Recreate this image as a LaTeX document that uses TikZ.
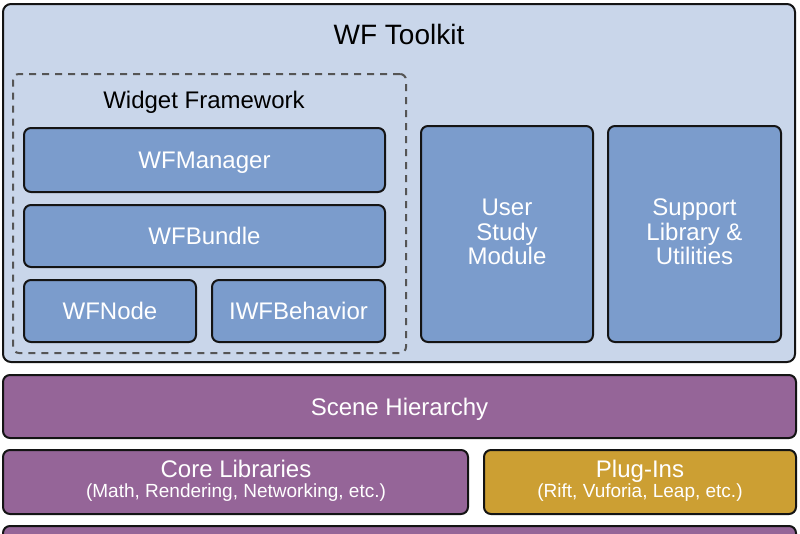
\documentclass[tikz,border=0pt]{standalone}
\usepackage{fontspec}
\setmainfont{Liberation Sans}
\definecolor{tkfill}{HTML}{C9D6EA}
\definecolor{wfblue}{HTML}{7B9CCC}
\definecolor{wfpurple}{HTML}{956598}
\definecolor{wfgold}{HTML}{CC9F33}
\definecolor{bordercol}{HTML}{141414}
\definecolor{dashcol}{HTML}{555555}
\begin{document}
\begin{tikzpicture}[x=1pt,y=-1pt,
  base box/.style={draw=bordercol, line width=2pt, rounded corners=7pt, inner sep=0pt, outer sep=0pt, anchor=north west},
  bluebox/.style={base box, fill=wfblue},
  purplebox/.style={base box, fill=wfpurple},
  goldbox/.style={base box, fill=wfgold},
  onel/.style={text=white, font=\fontsize{24}{24}\selectfont, text height=17.2pt, text depth=0pt},
  wlabel/.style={text=white, font=\fontsize{24}{24}\selectfont, anchor=base, inner sep=0pt},
  sublabel/.style={text=white, font=\fontsize{19}{19}\selectfont, anchor=base, inner sep=0pt},
  blabel/.style={text=black, anchor=base, inner sep=0pt}
]
\useasboundingbox (0,0) rectangle (800,533);
\fill[white] (0,0) rectangle (800,533);

% WF Toolkit container
\node[base box, fill=tkfill, rounded corners=8pt, minimum width=792pt, minimum height=358pt] (toolkit) at (3,4) {};
\node[blabel, font=\fontsize{28}{28}\selectfont] (tktitle) at (399,44) {WF Toolkit};

% Widget Framework dashed group
\node[draw=dashcol, line width=2pt, dash pattern=on 7pt off 6pt, rounded corners=6pt, inner sep=0pt, outer sep=0pt, anchor=north west, minimum width=393pt, minimum height=279pt] (wf) at (13,74) {};
\node[blabel, font=\fontsize{24}{24}\selectfont] (wftitle) at (204,108) {Widget Framework};

\node[bluebox, onel, minimum width=361pt, minimum height=64pt] (manager) at (24,128) {WFManager};
\node[bluebox, onel, minimum width=361pt, minimum height=62pt] (bundle) at (24,205) {WFBundle};
\node[bluebox, onel, minimum width=172pt, minimum height=62pt] (wfnode) at (24,280) {WFNode};
\node[bluebox, onel, minimum width=173pt, minimum height=62pt] (behavior) at (212,280) {IWFBehavior};

% User Study Module
\node[bluebox, minimum width=172pt, minimum height=216pt] (userstudy) at (421,126) {};
\node[wlabel] (us1) at (507,215) {User};
\node[wlabel] (us2) at (507,240) {Study};
\node[wlabel] (us3) at (507,264) {Module};

% Support Library
\node[bluebox, minimum width=173pt, minimum height=216pt] (support) at (608,126) {};
\node[wlabel] (sl1) at (694.5,215) {Support};
\node[wlabel] (sl2) at (694.5,240) {Library \&};
\node[wlabel] (sl3) at (694.5,264) {Utilities};

% Scene Hierarchy
\node[purplebox, onel, minimum width=793pt, minimum height=63pt] (scene) at (3,375) {Scene Hierarchy};

% Core Libraries
\node[purplebox, minimum width=465pt, minimum height=64pt] (core) at (3,450) {};
\node[wlabel] (coret) at (236,477) {Core Libraries};
\node[sublabel] (cores) at (236,497) {(Math, Rendering, Networking, etc.)};

% Plug-Ins
\node[goldbox, minimum width=312pt, minimum height=64pt] (plug) at (484,450) {};
\node[wlabel] (plugt) at (640,477) {Plug-Ins};
\node[sublabel] (plugs) at (640,497) {(Rift, Vuforia, Leap, etc.)};

% Bottom layer (cut off)
\node[purplebox, minimum width=793pt, minimum height=40pt] (bottom) at (3,526) {};
\end{tikzpicture}
\end{document}
